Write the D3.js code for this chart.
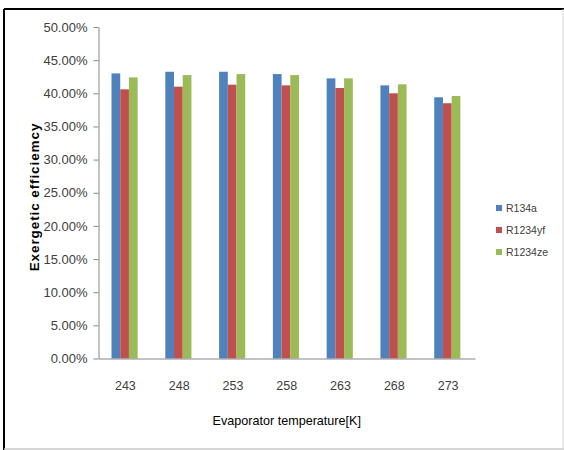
<!DOCTYPE html>
<html>
<head>
<meta charset="utf-8">
<script src="https://cdn.jsdelivr.net/npm/d3@7"></script>
<style>
  body { margin: 0; background: #fff; }
  svg { display: block; }
</style>
</head>
<body>
<div id="chart"></div>
<script>
// ---------------------------------------------- DATA ---------------------------------------------- //
const temps = ["243", "248", "253", "258", "263", "268", "273"];
const series = ["R134a", "R1234yf", "R1234ze"];
const r134a   = [0.430, 0.4325, 0.4325, 0.429, 0.4225, 0.412, 0.394];
const r1234yf = [0.406, 0.410, 0.413, 0.412, 0.408, 0.400, 0.385];
const r1234ze = [0.424, 0.4275, 0.429, 0.4275, 0.4225, 0.4135, 0.396];
const yTicks  = [0, 0.05, 0.10, 0.15, 0.20, 0.25, 0.30, 0.35, 0.40, 0.45, 0.50];
const colors  = ["#4F81BD", "#C0504D", "#9BBB59"];

const values = [r134a, r1234yf, r1234ze];
const rows = temps.map(function (t, i) {
  return { temp: t, vals: series.map(function (s, j) { return { key: s, value: values[j][i] }; }) };
});

const W = 564, H = 450;
const plot = { left: 98.5, right: 475, top: 27, bottom: 358.5 };
const font = "'Liberation Sans', Arial, sans-serif";

const svg = d3.select("#chart")
  .append("svg")
  .attr("width", W)
  .attr("height", H);

svg.append("rect").attr("width", W).attr("height", H).attr("fill", "#fff");

// frame: black on top/left, light grey on bottom/right
svg.append("line").attr("x1", 4).attr("x2", W).attr("y1", 9).attr("y2", 9)
  .attr("stroke", "#000").attr("stroke-width", 2);
svg.append("line").attr("x1", 4).attr("x2", 4).attr("y1", 9).attr("y2", H)
  .attr("stroke", "#000").attr("stroke-width", 2);
svg.append("line").attr("x1", 4).attr("x2", W).attr("y1", H - 1).attr("y2", H - 1)
  .attr("stroke", "#c8c8c8").attr("stroke-width", 1.5);
svg.append("line").attr("x1", W - 1).attr("x2", W - 1).attr("y1", 9).attr("y2", H)
  .attr("stroke", "#d8d8d8").attr("stroke-width", 1);

// ---------------------------------------------- SCALES ---------------------------------------------- //
const y = d3.scaleLinear().domain([0, 0.5]).range([plot.bottom, plot.top]);
const x0 = d3.scaleBand().domain(temps).range([plot.left, plot.right]).padding(0);
const bw = x0.bandwidth();
const x1 = d3.scaleBand().domain(series).range([bw * 0.242, bw * 0.728]).padding(0);

// ---------------------------------------------- BARS ---------------------------------------------- //
const groups = svg.selectAll("g.cat")
  .data(rows)
  .enter()
  .append("g")
  .attr("class", "cat")
  .attr("transform", function (d) { return "translate(" + x0(d.temp) + ",0)"; });

groups.selectAll("rect")
  .data(function (d) { return d.vals; })
  .enter()
  .append("rect")
  .attr("x", function (d) { return x1(d.key); })
  .attr("width", x1.bandwidth())
  .attr("y", function (d) { return y(d.value); })
  .attr("height", function (d) { return y(0) - y(d.value); })
  .attr("fill", function (d, i) { return colors[i]; });

// ---------------------------------------------- AXES ---------------------------------------------- //
const yAxis = svg.append("g")
  .attr("transform", "translate(" + plot.left + ",0)")
  .call(d3.axisLeft(y).tickValues(yTicks).tickFormat(d3.format(".2%")).tickSize(5).tickSizeOuter(0).tickPadding(6));
yAxis.select(".domain").attr("stroke", "#868686");
yAxis.selectAll(".tick line").attr("stroke", "#868686");
yAxis.selectAll("text")
  .attr("font-family", font)
  .attr("font-size", 13)
  .attr("fill", "#404040");

const xAxis = svg.append("g")
  .attr("transform", "translate(0," + plot.bottom + ")")
  .call(d3.axisBottom(x0).tickSize(0).tickPadding(23));
xAxis.select(".domain").attr("stroke", "#868686");
xAxis.selectAll("text")
  .attr("font-family", font)
  .attr("font-size", 12.5)
  .attr("fill", "#404040");

// ---------------------------------------------- TITLES ---------------------------------------------- //
svg.append("text")
  .attr("x", (plot.left + plot.right) / 2)
  .attr("y", 425)
  .attr("text-anchor", "middle")
  .attr("font-family", font)
  .attr("font-size", 12.6)
  .attr("fill", "#000")
  .text("Evaporator temperature[K]");

svg.append("text")
  .attr("transform", "translate(39,197) rotate(-90)")
  .attr("text-anchor", "middle")
  .attr("font-family", font)
  .attr("font-weight", "bold")
  .attr("font-size", 13.5)
  .attr("letter-spacing", 0.9)
  .attr("fill", "#000")
  .text("Exergetic efficiemcy");

// ---------------------------------------------- LEGEND ---------------------------------------------- //
const legend = svg.selectAll("g.legend")
  .data(series)
  .enter()
  .append("g")
  .attr("class", "legend")
  .attr("transform", function (d, i) { return "translate(496," + (208 + i * 22) + ")"; });

legend.append("rect")
  .attr("x", 0).attr("y", -3)
  .attr("width", 6).attr("height", 6)
  .attr("fill", function (d, i) { return colors[i]; });

legend.append("text")
  .attr("x", 10)
  .attr("y", 0)
  .attr("dy", "0.35em")
  .attr("font-family", font)
  .attr("font-size", 10.5)
  .attr("fill", "#404040")
  .text(function (d) { return d; });
</script>
</body>
</html>
